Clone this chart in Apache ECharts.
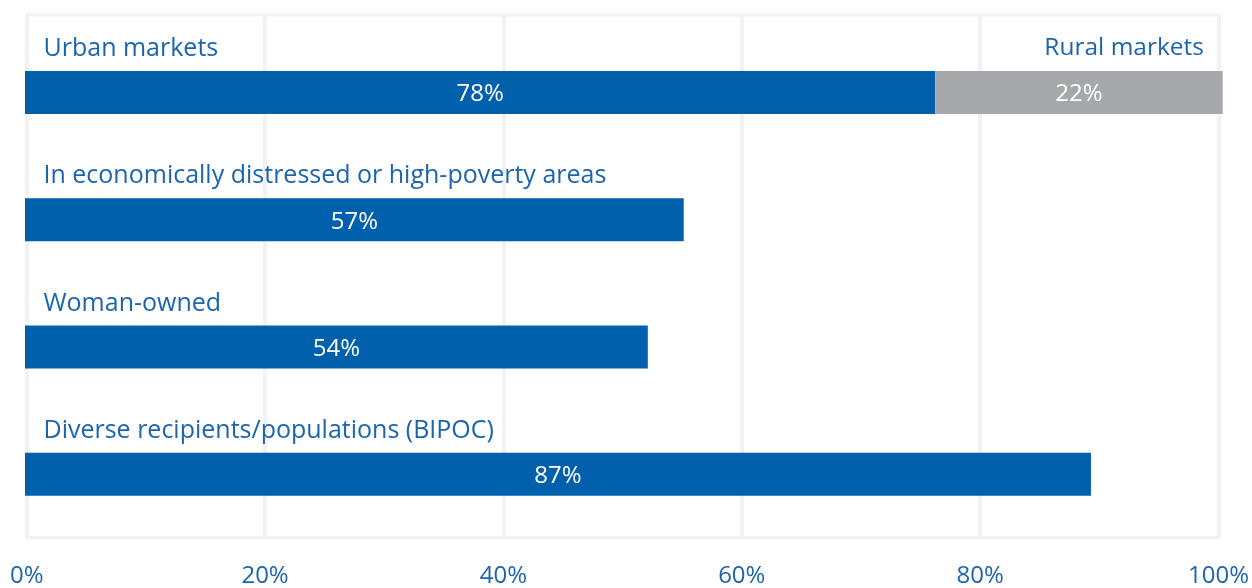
<!DOCTYPE html>
<html>
<head>
<meta charset="utf-8">
<script src="https://cdn.jsdelivr.net/npm/echarts@6/dist/echarts.min.js"></script>
<style>
html,body{margin:0;padding:0;background:#fff;}
#chart{width:1252px;height:588px;}
</style>
</head>
<body>
<div id="chart"></div>
<script>
// Categories (top to bottom)
const categories = [
  'Urban markets',
  'In economically distressed or high-poverty areas',
  'Woman-owned',
  'Diverse recipients/populations (BIPOC)'
];
// Bar lengths as drawn in the picture (percent of axis)
const primaryLengths = [76, 55, 52, 89];
const ruralLengths = [24, '-', '-', '-'];
// Values as printed on the bars
const primaryLabels = [78, 57, 54, 87];
const ruralLabels = [22, null, null, null];
// Name of the second (grey) segment, shown for the first row only
const ruralName = 'Rural markets';
// Zero-length anchors that carry the text labels above the bars
const nameAnchors = [0, 0, 0, 0];
const ruralNameAnchors = [0, '-', '-', '-'];
// X-axis ticks
const xTicks = [0, 20, 40, 60, 80, 100];

const BLUE = '#0060ac';
const TEXT_BLUE = '#1c65ad';
const GREY = '#a7a8ab';
const FONT = 'Open Sans';

const chart = echarts.init(document.getElementById('chart'), null, {renderer: 'canvas'});
chart.setOption({
  animation: false,
  backgroundColor: '#ffffff',
  grid: [
    {left: 26.7, right: 31, top: 15, bottom: 50, show: true, borderColor: '#f2f2f2', borderWidth: 3, backgroundColor: 'transparent'},
    {left: 25, right: 29.3, top: 28.85, bottom: 50}
  ],
  xAxis: [
    {
      gridIndex: 0, type: 'value', min: xTicks[0], max: xTicks[xTicks.length - 1],
      interval: xTicks[1] - xTicks[0],
      axisLine: {show: false}, axisTick: {show: false},
      splitLine: {show: true, lineStyle: {color: '#f2f2f2', width: 4}},
      axisLabel: {
        formatter: v => v + '%', color: TEXT_BLUE, fontFamily: FONT, fontSize: 24,
        margin: 26.5, verticalAlign: 'top'
      }
    },
    {gridIndex: 1, type: 'value', min: 0, max: 100, show: false}
  ],
  yAxis: [
    {gridIndex: 0, type: 'value', show: false},
    {
      gridIndex: 1, type: 'category', inverse: true, data: categories,
      axisLine: {show: false}, axisTick: {show: false}, splitLine: {show: false},
      axisLabel: {show: false}
    }
  ],
  series: [
    {
      name: 'names', type: 'bar', xAxisIndex: 1, yAxisIndex: 1, stack: 'total', barWidth: 43,
      data: nameAnchors, silent: true,
      itemStyle: {color: 'transparent'},
      label: {
        show: true, position: [18.5, -22], align: 'left', verticalAlign: 'middle',
        color: TEXT_BLUE, fontFamily: FONT, fontSize: 25,
        formatter: p => categories[p.dataIndex]
      }
    },
    {
      type: 'bar', xAxisIndex: 1, yAxisIndex: 1, stack: 'total', barWidth: 43,
      data: primaryLengths,
      itemStyle: {color: BLUE},
      label: {
        show: true, position: 'inside', offset: [0, 2], color: '#ffffff', fontFamily: FONT, fontSize: 24,
        formatter: p => primaryLabels[p.dataIndex] + '%'
      }
    },
    {
      type: 'bar', xAxisIndex: 1, yAxisIndex: 1, stack: 'total', barWidth: 43,
      data: ruralLengths,
      itemStyle: {color: GREY},
      label: {
        show: true, position: 'inside', offset: [0, 2], color: '#ffffff', fontFamily: FONT, fontSize: 24,
        formatter: p => ruralLabels[p.dataIndex] == null ? '' : ruralLabels[p.dataIndex] + '%'
      }
    },
    {
      name: 'ruralName', type: 'bar', xAxisIndex: 1, yAxisIndex: 1, stack: 'total', barWidth: 43,
      data: ruralNameAnchors, silent: true,
      itemStyle: {color: 'transparent'},
      label: {
        show: true, position: [-18.7, -23], align: 'right', verticalAlign: 'middle',
        color: TEXT_BLUE, fontFamily: FONT, fontSize: 24.5,
        formatter: () => ruralName
      }
    }
  ]
});
</script>
</body>
</html>
